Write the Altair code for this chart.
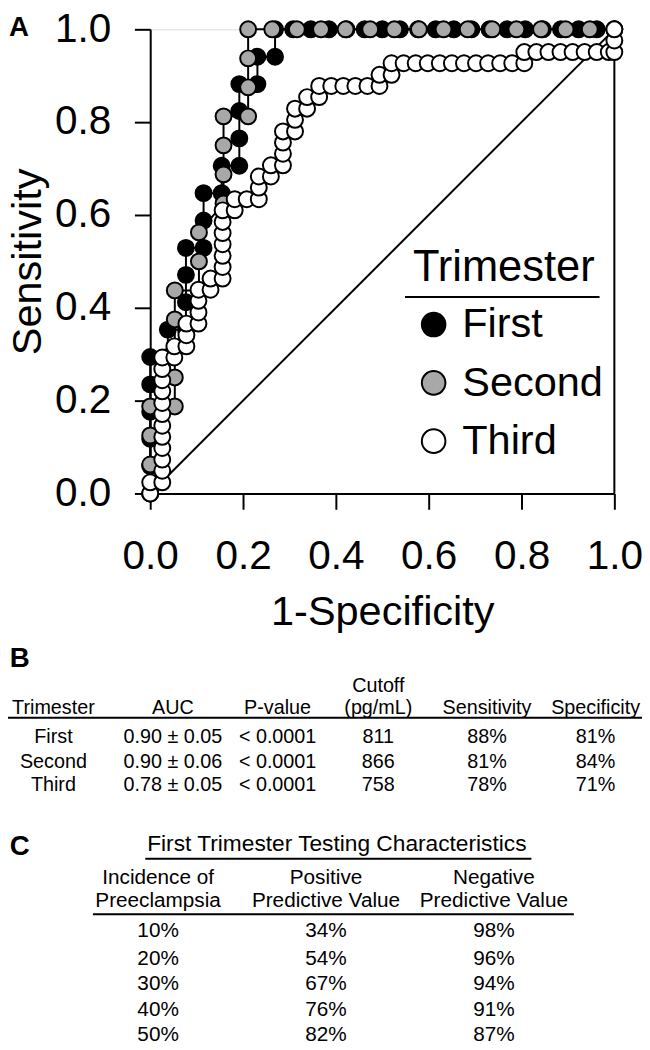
import altair as alt
import pandas as pd

# ---------------- Panel A: ROC curves ----------------
trimesters = ["First", "Second", "Third"]
fill_colors = ["black", "#a8a8a8", "white"]

first_fpr = [0, 0, 0, 0, 0, 0, 0.038, 0.038, 0.077, 0.077, 0.077, 0.077, 0.115, 0.115, 0.115,
             0.154, 0.154, 0.192, 0.192, 0.192, 0.192, 0.231, 0.231, 0.269, 0.269,
             0.308, 0.346, 0.385, 0.423, 0.462, 0.500, 0.538, 0.577, 0.615, 0.654, 0.692,
             0.731, 0.769, 0.808, 0.846, 0.885, 0.923, 0.962, 1.0]
first_tpr = [0, 0.059, 0.118, 0.176, 0.235, 0.294, 0.294, 0.353, 0.353, 0.412, 0.471, 0.529, 0.529, 0.588, 0.647,
             0.647, 0.706, 0.706, 0.765, 0.824, 0.882, 0.882, 0.941, 0.941, 1.0,
             1.0, 1.0, 1.0, 1.0, 1.0, 1.0, 1.0, 1.0, 1.0, 1.0, 1.0,
             1.0, 1.0, 1.0, 1.0, 1.0, 1.0, 1.0, 1.0]

second_fpr = [0, 0, 0, 0, 0.053, 0.053, 0.053, 0.053, 0.053, 0.105, 0.105, 0.105,
              0.158, 0.158, 0.158, 0.158, 0.211, 0.211, 0.211, 0.211,
              0.263, 0.316, 0.368, 0.421, 0.474, 0.526, 0.579, 0.632, 0.684, 0.737,
              0.789, 0.842, 0.895, 0.947, 1.0]
second_tpr = [0, 0.0625, 0.125, 0.1875, 0.1875, 0.25, 0.3125, 0.375, 0.4375, 0.4375, 0.5, 0.5625,
              0.625, 0.6875, 0.75, 0.8125, 0.8125, 0.875, 0.9375, 1.0,
              1.0, 1.0, 1.0, 1.0, 1.0, 1.0, 1.0, 1.0, 1.0, 1.0,
              1.0, 1.0, 1.0, 1.0, 1.0]

third_fpr = [0, 0, 0.026, 0.026, 0.026, 0.026, 0.026, 0.026, 0.026, 0.026, 0.026, 0.026, 0.026, 0.026,
             0.052, 0.052, 0.078, 0.078, 0.078, 0.104, 0.104, 0.104, 0.104, 0.130, 0.130,
             0.156, 0.156, 0.156, 0.156, 0.156, 0.156, 0.156, 0.182, 0.182, 0.208, 0.234, 0.234, 0.234,
             0.260, 0.260, 0.286, 0.286, 0.286, 0.286, 0.312, 0.312, 0.312, 0.338, 0.338, 0.364, 0.364,
             0.390, 0.416, 0.442, 0.468, 0.494, 0.494, 0.520, 0.520, 0.546, 0.572, 0.598, 0.624, 0.650,
             0.676, 0.702, 0.728, 0.754, 0.780, 0.806, 0.806, 0.832, 0.858, 0.884, 0.910, 0.936, 0.962,
             0.988, 1.0, 1.0, 1.0]
third_tpr = [0, 0.024, 0.024, 0.049, 0.073, 0.098, 0.122, 0.146, 0.171, 0.195, 0.220, 0.244, 0.268, 0.293,
             0.293, 0.317, 0.317, 0.341, 0.366, 0.366, 0.390, 0.415, 0.439, 0.439, 0.463,
             0.463, 0.488, 0.512, 0.537, 0.561, 0.585, 0.610, 0.610, 0.634, 0.634, 0.634, 0.659, 0.683,
             0.683, 0.707, 0.707, 0.732, 0.756, 0.780, 0.780, 0.805, 0.829, 0.829, 0.854, 0.854, 0.878,
             0.878, 0.878, 0.878, 0.878, 0.878, 0.902, 0.902, 0.927, 0.927, 0.927, 0.927, 0.927, 0.927,
             0.927, 0.927, 0.927, 0.927, 0.927, 0.927, 0.951, 0.951, 0.951, 0.951, 0.951, 0.951, 0.951,
             0.951, 0.951, 0.976, 1.0]

diag_x = [0, 1]
diag_y = [0, 1]
frame_right_x = [1]
frame_right_y = [0]
frame_right_y2 = [0.95]

# ---------------- Panel B table ----------------
b_header_top = ["", "", "", "Cutoff", "", ""]
b_header = ["Trimester", "AUC", "P-value", "(pg/mL)", "Sensitivity", "Specificity"]
b_trimester = ["First", "Second", "Third"]
b_auc = ["0.90 ± 0.05", "0.90 ± 0.06", "0.78 ± 0.05"]
b_pvalue = ["< 0.0001", "< 0.0001", "< 0.0001"]
b_cutoff = ["811", "866", "758"]
b_sensitivity = ["88%", "81%", "78%"]
b_specificity = ["81%", "84%", "71%"]

# ---------------- Panel C table ----------------
c_title = "First Trimester Testing Characteristics"
c_header_top = ["Incidence of", "Positive", "Negative"]
c_header = ["Preeclampsia", "Predictive Value", "Predictive Value"]
c_incidence = ["10%", "20%", "30%", "40%", "50%"]
c_ppv = ["34%", "54%", "67%", "76%", "82%"]
c_npv = ["98%", "96%", "94%", "91%", "87%"]

FONT = "Liberation Sans"

# ---- build ROC frame ----
rows = []
for name, xs, ys in zip(trimesters, [first_fpr, second_fpr, third_fpr], [first_tpr, second_tpr, third_tpr]):
    for i, (a, b) in enumerate(zip(xs, ys)):
        rows.append({"trimester": name, "idx": i, "fpr": a, "tpr": b})
roc_df = pd.DataFrame(rows)

xscale = alt.Scale(domain=[0, 1], nice=False, zero=False)
yscale = alt.Scale(domain=[0, 1], nice=False, zero=False)
ticks = [0, 0.2, 0.4, 0.6, 0.8, 1.0]

x_axis = alt.Axis(values=ticks, format=".1f", grid=False, labelFontSize=41, labelFont=FONT,
                  labelColor="black", tickSize=16, tickWidth=2, tickColor="black",
                  domainWidth=2, domainColor="black", labelPadding=28, labelFlush=False,
                  labelOverlap=False, title="1-Specificity", titleFont=FONT, titleFontSize=42,
                  titleFontWeight="normal", titleColor="black", titlePadding=16)
y_axis = alt.Axis(values=ticks, format=".1f", grid=False, labelFontSize=41, labelFont=FONT,
                  labelColor="black", tickSize=16, tickWidth=2, tickColor="black",
                  domainWidth=2, domainColor="black", labelPadding=24, labelFlush=False,
                  labelOverlap=False, title="Sensitivity", titleFont=FONT, titleFontSize=42,
                  titleFontWeight="normal", titleColor="black", titlePadding=5)

diag = alt.Chart(pd.DataFrame({"x": diag_x, "y": diag_y})).mark_line(
    color="black", strokeWidth=2).encode(
    x=alt.X("x:Q", scale=xscale, axis=x_axis),
    y=alt.Y("y:Q", scale=yscale, axis=y_axis))

frame = alt.Chart(pd.DataFrame({"x": frame_right_x, "y": frame_right_y, "y2": frame_right_y2})).mark_rule(
    color="black", strokeWidth=2).encode(
    x=alt.X("x:Q", scale=xscale), y=alt.Y("y:Q", scale=yscale), y2="y2:Q")

lines = alt.Chart(roc_df).mark_line(color="black", strokeWidth=2).encode(
    x=alt.X("fpr:Q", scale=xscale),
    y=alt.Y("tpr:Q", scale=yscale),
    detail="trimester:N",
    order="idx:Q")

points = alt.Chart(roc_df).mark_point(shape="circle", filled=True, size=260, stroke="black",
                                      strokeWidth=2, opacity=1).encode(
    x=alt.X("fpr:Q", scale=xscale),
    y=alt.Y("tpr:Q", scale=yscale),
    fill=alt.Fill("trimester:N", scale=alt.Scale(domain=trimesters, range=fill_colors),
                  sort=trimesters,
                  legend=alt.Legend(orient="none", legendX=266, legendY=220, title="Trimester",
                                    titleFont=FONT, titleFontSize=44, titleFontWeight="normal",
                                    titleColor="black", titleLimit=400, titlePadding=14,
                                    labelFont=FONT, labelFontSize=42, labelColor="black",
                                    labelLimit=400, labelOffset=8, symbolType="circle",
                                    symbolSize=570, symbolStrokeColor="black", symbolStrokeWidth=2,
                                    rowPadding=17, padding=0)))

roc = alt.layer(diag, frame, lines, points)

# ---- table B ----
b_rows = []
for c, t in enumerate(b_header_top):
    if t:
        b_rows.append({"col": c, "row": 0, "text": t})
for c, t in enumerate(b_header):
    b_rows.append({"col": c, "row": 1, "text": t})
for r in range(3):
    for c, colvals in enumerate([b_trimester, b_auc, b_pvalue, b_cutoff, b_sensitivity, b_specificity]):
        b_rows.append({"col": c, "row": r + 2, "text": colvals[r]})
b_df = pd.DataFrame(b_rows)

table_b = alt.Chart(b_df).mark_text(font=FONT, fontSize=20, color="black", align="center",
                                    baseline="middle").encode(
    x=alt.X("col:Q", axis=None, scale=alt.Scale(domain=[0, 1, 2, 3, 4, 5],
                                                range=[-98, 23, 129, 231, 341, 451], nice=False, zero=False)),
    y=alt.Y("row:Q", axis=None, scale=alt.Scale(domain=[0, 1, 2, 3, 4],
                                                range=[665, 687, 717, 742, 765], nice=False, zero=False)),
    text="text:N")

# ---- table C ----
c_rows = []
for c, t in enumerate(c_header_top):
    c_rows.append({"col": c, "row": 0, "text": t})
for c, t in enumerate(c_header):
    c_rows.append({"col": c, "row": 1, "text": t})
for r in range(5):
    for c, colvals in enumerate([c_incidence, c_ppv, c_npv]):
        c_rows.append({"col": c, "row": r + 2, "text": colvals[r]})
c_df = pd.DataFrame(c_rows)

table_c = alt.Chart(c_df).mark_text(font=FONT, fontSize=21, color="black", align="center",
                                    baseline="middle").encode(
    x=alt.X("col:Q", axis=None, scale=alt.Scale(domain=[0, 1, 2], range=[8, 178, 348],
                                                nice=False, zero=False)),
    y=alt.Y("row:Q", axis=None, scale=alt.Scale(domain=[0, 1, 2, 3, 4, 5, 6],
                                                range=[859, 883, 913, 941, 967, 993, 1018],
                                                nice=False, zero=False)),
    text="text:N")

c_title_mark = alt.Chart(pd.DataFrame({"text": [c_title]})).mark_text(
    font=FONT, fontSize=23, color="black", align="center", baseline="middle").encode(
    x=alt.value(189), y=alt.value(825), text="text:N")

# ---- decorations: panel letters and rules ----
def letter(t, x, y):
    return alt.Chart(pd.DataFrame({"t": [t]})).mark_text(
        font=FONT, fontSize=28, fontWeight="bold", color="black", align="center",
        baseline="middle").encode(x=alt.value(x), y=alt.value(y), text="t:N")

def hrule(x1, x2, y, w=2):
    return alt.Chart(pd.DataFrame({"a": [0]})).mark_rule(color="black", strokeWidth=w).encode(
        x=alt.value(x1), x2=alt.value(x2), y=alt.value(y))

decor = [letter("A", -133, -1), letter("B", -132, 638), letter("C", -132, 828),
         hrule(258, 455, 271), hrule(-144, 498, 697), hrule(-5, 386, 840), hrule(-58, 429, 896)]

chart = alt.layer(roc, table_b, table_c, c_title_mark, *decor).resolve_scale(
    x="independent", y="independent"
).properties(
    width=470, height=470,
    autosize=alt.AutoSizeParams(type="none"),
    padding={"left": 144, "top": 15, "right": 28, "bottom": 560},
).configure_view(stroke=None).configure(font=FONT)

chart.save("out.html", embed_options={"renderer": "svg", "actions": False})
